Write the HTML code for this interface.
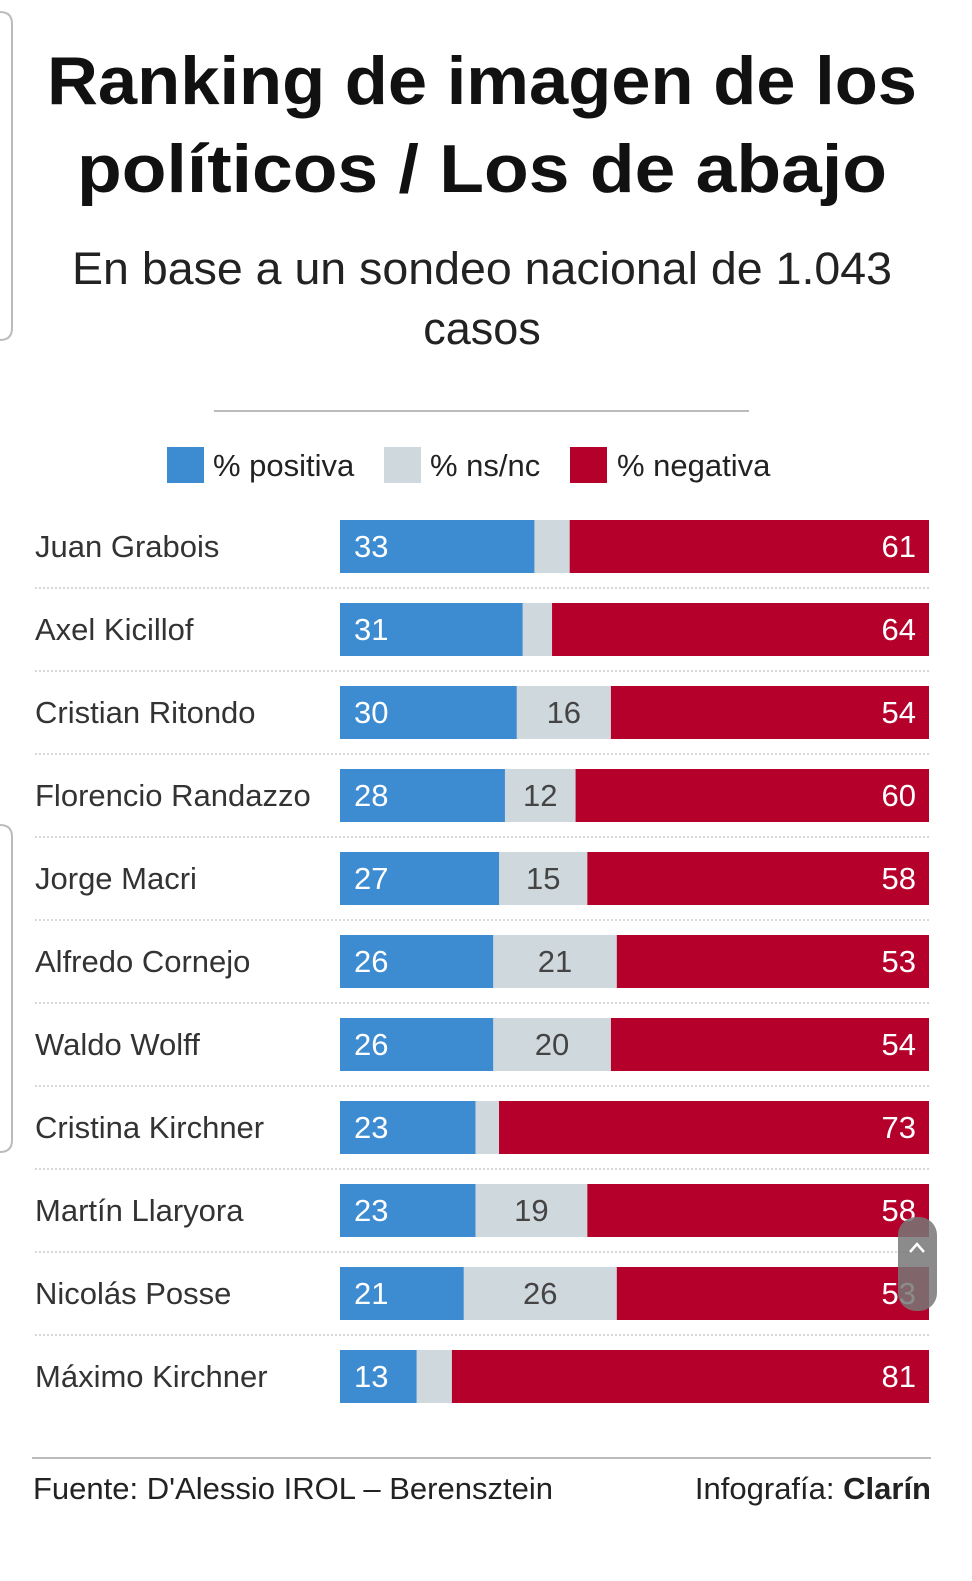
<!DOCTYPE html>
<html><head><meta charset="utf-8"><style>
html,body{margin:0;padding:0;background:#fff;}
svg{display:block;font-family:"Liberation Sans",sans-serif;}
</style></head><body>
<svg width="972" height="1581" viewBox="0 0 972 1581" xmlns="http://www.w3.org/2000/svg">
<rect width="972" height="1581" fill="#fff"/>
<path d="M0,12 Q12,12 12,24 L12,328 Q12,340 0,340" fill="none" stroke="#bbb" stroke-width="2"/>
<path d="M0,825 Q12,825 12,837 L12,1140 Q12,1152 0,1152" fill="none" stroke="#bbb" stroke-width="2"/>
<text x="482" y="104" text-anchor="middle" font-size="68" font-weight="bold" fill="#111" textLength="870" lengthAdjust="spacingAndGlyphs">Ranking de imagen de los</text>
<text x="482" y="192" text-anchor="middle" font-size="68" font-weight="bold" fill="#111" textLength="810" lengthAdjust="spacingAndGlyphs">políticos / Los de abajo</text>
<text x="482" y="284" text-anchor="middle" font-size="45" fill="#222" textLength="820" lengthAdjust="spacingAndGlyphs">En base a un sondeo nacional de 1.043</text>
<text x="482" y="344" text-anchor="middle" font-size="45" fill="#222">casos</text>
<line x1="214" y1="411" x2="749" y2="411" stroke="#bbb" stroke-width="2"/>
<rect x="167" y="447" width="37" height="36" fill="#3d8bd0"/>
<text x="213" y="476" font-size="31" fill="#222">% positiva</text>
<rect x="384" y="447" width="37" height="36" fill="#cfd8dd"/>
<text x="430" y="476" font-size="31" fill="#222">% ns/nc</text>
<rect x="570" y="447" width="37" height="36" fill="#b5002b"/>
<text x="617" y="476" font-size="31" fill="#222">% negativa</text>
<g id="rows" font-size="31"></g>
<line x1="32" y1="1458" x2="931" y2="1458" stroke="#bbb" stroke-width="2"/>
<text x="33" y="1499" font-size="31" fill="#222">Fuente: D'Alessio IROL – Berensztein</text>
<text x="931" y="1499" font-size="31" fill="#222" text-anchor="end">Infografía: <tspan font-weight="bold">Clarín</tspan></text>
</svg>
<script>
var d=[["Juan Grabois",33,61],["Axel Kicillof",31,64],["Cristian Ritondo",30,54],["Florencio Randazzo",28,60],["Jorge Macri",27,58],["Alfredo Cornejo",26,53],["Waldo Wolff",26,54],["Cristina Kirchner",23,73],["Martín Llaryora",23,58],["Nicolás Posse",21,53],["Máximo Kirchner",13,81]];
var s="",x0=340,W=589;
d.forEach(function(r,i){var y=520+83*i,p=r[1],n=r[2],g=100-p-n;
var pw=p/100*W,nw=n/100*W;
s+='<text x="35" y="'+(y+37)+'" fill="#333">'+r[0]+'</text>';
s+='<rect x="'+x0+'" y="'+y+'" width="'+W+'" height="53" fill="#cfd8dd"/>';
s+='<rect x="'+x0+'" y="'+y+'" width="'+pw+'" height="53" fill="#3d8bd0"/>';
s+='<rect x="'+(x0+W-nw)+'" y="'+y+'" width="'+nw+'" height="53" fill="#b5002b"/>';
s+='<text x="354" y="'+(y+37)+'" fill="#fff">'+p+'</text>';
s+='<text x="916" y="'+(y+37)+'" fill="#fff" text-anchor="end">'+n+'</text>';
if(g>=10)s+='<text x="'+(x0+pw+(W-pw-nw)/2)+'" y="'+(y+37)+'" fill="#444" text-anchor="middle">'+g+'</text>';
if(i<10)s+='<line x1="35" y1="'+(y+68)+'" x2="929" y2="'+(y+68)+'" stroke="#ccc" stroke-width="1.5" stroke-dasharray="2,2"/>';
});
s+='<rect x="898" y="1217" width="39" height="94" rx="18" fill="#777" opacity="0.85"/><path d="M910,1252 L917,1244 L924,1252" fill="none" stroke="#fff" stroke-width="2.5"/>';
document.getElementById("rows").innerHTML=s;
</script>
</body></html>
